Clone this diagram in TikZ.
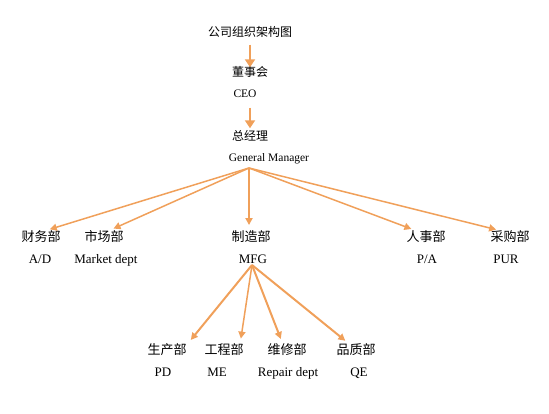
\documentclass[tikz,border=0pt]{standalone}
\usepackage{fontspec}
\setmainfont{Liberation Serif}
\newfontfamily\cjk{Noto Sans CJK SC}
\usetikzlibrary{arrows.meta,positioning}
\definecolor{orgline}{RGB}{240,160,90}

\begin{document}
\begin{tikzpicture}[x=1pt,y=-1pt,
  every node/.style={inner sep=0pt},
  cn/.style={font=\cjk\fontsize{12}{12}\selectfont,text height=9pt,text depth=2pt},
  en/.style={font=\fontsize{11.5}{11.5}\selectfont,text height=8pt,text depth=2pt},
  deptcn/.style={font=\cjk\fontsize{13}{13}\selectfont,text height=10pt,text depth=2.5pt},
  depten/.style={font=\fontsize{13}{13}\selectfont,text height=9pt,text depth=2.5pt},
  vline/.style={draw=orgline,line width=2.4pt,-{Triangle[length=8pt,width=10pt]}},
  fan/.style={draw=orgline,line width=1.5pt,-{Triangle[length=7pt,width=7pt]},shorten >=6pt}]
\useasboundingbox (0,0) rectangle (549,413);
\node[cn] (title) at (250,33) {公司组织架构图};
\node[cn] (dsh) at (250,73) {董事会};
\node[en,below=10.5pt of dsh,xshift=-5pt] (ceo) {CEO};
\node[cn] (zjl) at (250,137) {总经理};
\node[en,below=10.5pt of zjl,xshift=19pt] (gm) {General Manager};
\draw[vline,shorten <=6pt] (title) -- (dsh);
\draw[vline,shorten <=8pt,shorten >=3pt] (ceo.south -| zjl) -- (zjl);
% departments
\node[deptcn] (cwb) at (41,237.5) {财务部};
\node[deptcn] (scb) at (104,237.5) {市场部};
\node[deptcn] (zzb) at (251,237.5) {制造部};
\node[deptcn] (rsb) at (426,237.5) {人事部};
\node[deptcn] (cgb) at (510,237.5) {采购部};
\node[depten,below=10pt of cwb,xshift=-1pt] {A/D};
\node[depten,below=10pt of scb,xshift=2pt] {Market dept};
\node[depten,below=10pt of zzb,xshift=2pt] (mfg) {MFG};
\node[depten,below=10pt of rsb,xshift=1pt] {P/A};
\node[depten,below=10pt of cgb,xshift=-4pt] {PUR};
\coordinate (fan1) at (249,168);
\draw[fan] (fan1) -- ([xshift=3pt]cwb.north);
\draw[fan] (fan1) -- ([xshift=4pt]scb.north);
\draw[fan,line width=2pt] (fan1) -- ([xshift=-2pt]zzb.north);
\draw[fan] (fan1) -- ([xshift=-9pt]rsb.north);
\draw[fan] (fan1) -- ([xshift=-8pt]cgb.north);
% manufacturing
\node[deptcn] (scpb) at (167,351) {生产部};
\node[deptcn] (gcb) at (224,351) {工程部};
\node[deptcn] (wxb) at (287,351) {维修部};
\node[deptcn] (pzb) at (356,351) {品质部};
\node[depten,below=10pt of scpb,xshift=-4pt] {PD};
\node[depten,below=10pt of gcb,xshift=-7pt] {ME};
\node[depten,below=10pt of wxb,xshift=1pt] {Repair dept};
\node[depten,below=10pt of pzb,xshift=3pt] {QE};
\coordinate (fan2) at (252,265);
\draw[fan,line width=2pt] (fan2) -- ([xshift=20pt]scpb.north);
\draw[fan] (fan2) -- ([xshift=16pt]gcb.north);
\draw[fan,line width=2pt] (fan2) -- ([xshift=-4pt]wxb.north);
\draw[fan,line width=2pt] (fan2) -- ([xshift=-6pt]pzb.north);
\end{tikzpicture}
\end{document}
